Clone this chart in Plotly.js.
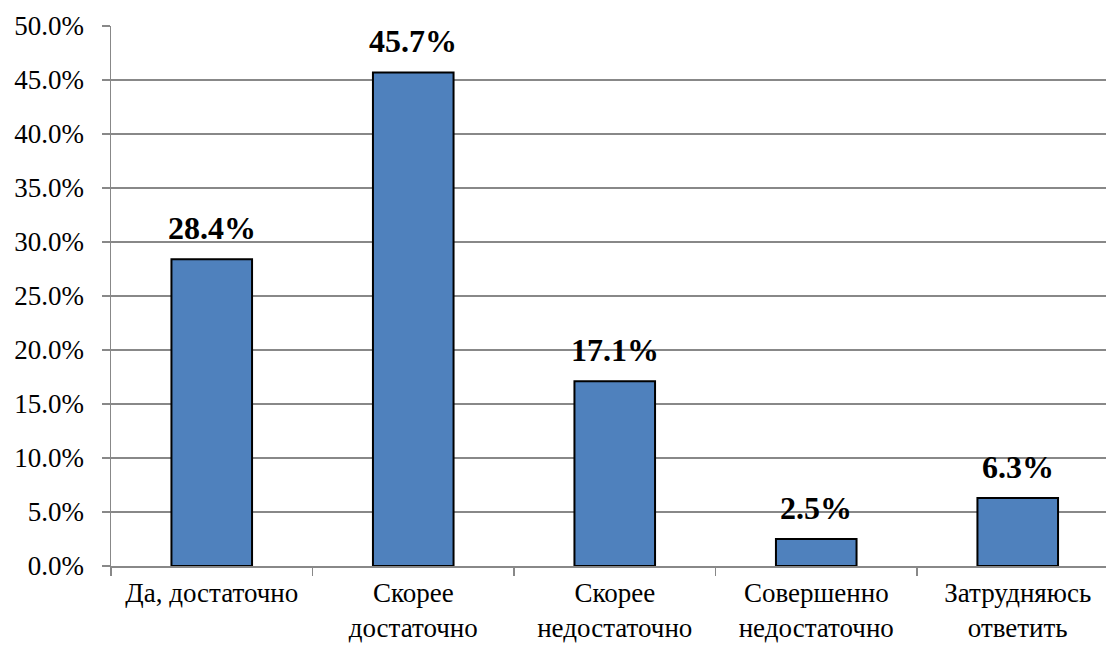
<!DOCTYPE html>
<html><head><meta charset="utf-8">
<script src="https://cdn.plot.ly/plotly-3.0.1.min.js"></script>
<style>html,body{margin:0;padding:0;background:#fff}#chart{width:1106px;height:647px}</style>
</head><body><div id="chart"></div>
<script>
const categories = ["Да, достаточно", "Скорее<br>достаточно", "Скорее<br>недостаточно", "Совершенно<br>недостаточно", "Затрудняюсь<br>ответить"];
const values = [28.4, 45.7, 17.1, 2.5, 6.3];
const valueLabels = ["28.4%", "45.7%", "17.1%", "2.5%", "6.3%"];

const font = "Liberation Serif";
const grey = "#888888";

const trace = {
  type: "bar",
  x: categories,
  y: values,
  width: 0.4,
  marker: {color: "#4F81BD", line: {color: "#000000", width: 2}},
  hoverinfo: "none"
};

const annotations = categories.map((c, i) => ({
  x: c, y: values[i], xref: "x", yref: "y",
  text: "<b>" + valueLabels[i] + "</b>",
  showarrow: false, yanchor: "bottom", yshift: 11,
  font: {family: font, size: 32, color: "#000"}
}));

const layout = {
  width: 1106, height: 647,
  margin: {l: 111, r: 0, t: 26, b: 81},
  paper_bgcolor: "#fff", plot_bgcolor: "#fff",
  showlegend: false,
  font: {family: font, color: "#000"},
  xaxis: {
    type: "category",
    range: [-0.5, 4.438],
    showline: true, linecolor: grey, linewidth: 1.5,
    ticks: "outside", tickson: "boundaries", ticklen: 8, tickcolor: grey, tickwidth: 1.5,
    showgrid: false,
    tickfont: {family: font, size: 27, color: "#000"},
    ticklabelstandoff: 2,
    fixedrange: true
  },
  yaxis: {
    range: [0, 50], dtick: 5, tick0: 0,
    tickformat: ".1f", ticksuffix: "%",
    showline: true, linecolor: grey, linewidth: 1.5,
    ticks: "outside", ticklen: 8, tickcolor: grey, tickwidth: 1.5,
    showgrid: true, gridcolor: grey, gridwidth: 1.5,
    zeroline: false,
    tickfont: {family: font, size: 27, color: "#000"},
    ticklabelstandoff: 12,
    fixedrange: true
  },
  annotations: annotations
};

Plotly.newPlot("chart", [trace], layout, {displayModeBar: false, staticPlot: true});
</script></body></html>
